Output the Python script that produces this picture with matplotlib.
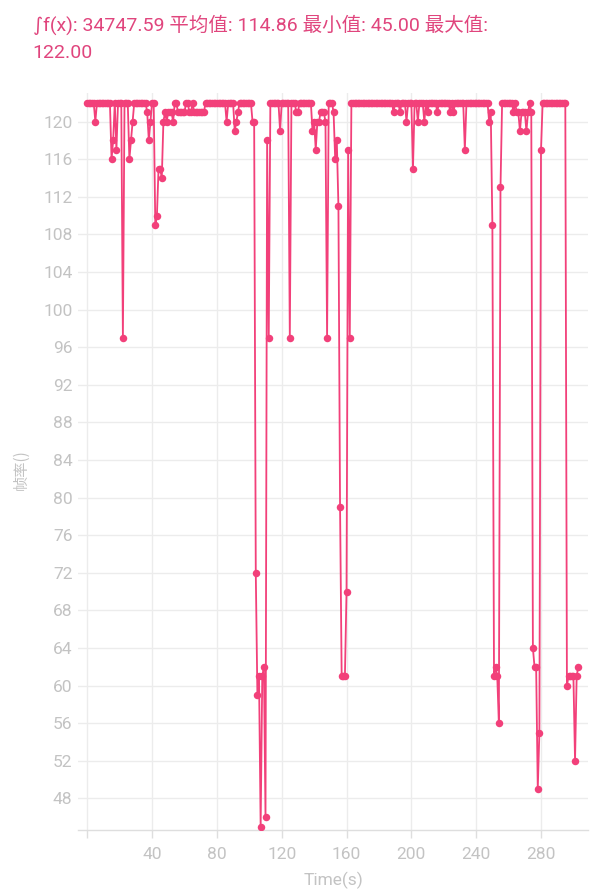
import matplotlib
matplotlib.use("Agg")
import matplotlib.pyplot as plt

plt.rcParams['font.family'] = ['Noto Sans CJK SC', 'DejaVu Sans']

# ---- data ----
n_points = 304
base_value = 122
dip_times = [5, 15, 16, 18, 22, 26, 27, 28,
             37, 38, 39, 42, 43, 44, 45, 46, 47, 48, 49, 50, 51, 52, 53,
             56, 57, 58, 59, 60, 63, 64, 66, 67, 68, 69, 70, 71, 72,
             86, 91, 92, 93,
             102, 103, 104, 105, 106, 107, 108, 109, 110, 111, 112,
             119, 125, 129, 130,
             139, 140, 141, 142, 143, 144, 145, 146, 147, 148,
             152, 153, 154, 155, 156, 157, 158, 159, 160, 161, 162,
             189, 193, 197, 201, 204, 208, 210, 216, 224, 226, 233,
             248, 249, 250, 251, 252, 253, 254, 255,
             263, 265, 266, 267, 268, 269, 270, 271, 272, 274,
             275, 276, 277, 278, 279, 280,
             296, 297, 298, 299, 300, 301, 302, 303]
dip_values = [120, 116, 118, 117, 97, 116, 118, 120,
              121, 118, 120, 109, 110, 115, 115, 114, 120, 121, 120, 121, 121, 121, 120,
              121, 121, 121, 121, 121, 121, 121, 121, 121, 121, 121, 121, 121, 121,
              120, 119, 120, 121,
              120, 120, 72, 59, 61, 45, 61, 62, 46, 118, 97,
              119, 97, 121, 121,
              119, 120, 117, 120, 120, 121, 121, 121, 120, 97,
              121, 116, 118, 111, 79, 61, 61, 61, 70, 117, 97,
              121, 121, 120, 115, 120, 120, 121, 121, 121, 121, 117,
              120, 121, 109, 61, 62, 61, 56, 113,
              121, 121, 121, 119, 121, 121, 121, 119, 121, 121,
              64, 62, 62, 49, 55, 117,
              60, 61, 61, 61, 61, 52, 61, 62]

times = list(range(n_points))
fps = [base_value] * n_points
for t, v in zip(dip_times, dip_values):
    fps[t] = v

x_ticks = [0, 40, 80, 120, 160, 200, 240, 280]
x_tick_labels = ['', '40', '80', '120', '160', '200', '240', '280']
y_ticks = list(range(48, 121, 4))

title_symbol = "∫"
title_line1 = "f(x): 34747.59 平均值: 114.86 最小值: 45.00 最大值:"
title_line2 = "122.00"

# ---- figure ----
fig = plt.figure(figsize=(6.0, 8.94), dpi=100)
ax = fig.add_axes([0.13, 0.0716, 0.85, 0.8244])

line_color = '#F2407A'
ax.plot(times, fps, color=line_color, linewidth=1.3, marker='o',
        markersize=5.4, markeredgewidth=0, zorder=3)

ax.set_xlim(-5.7, 309)
ax.set_ylim(44.65, 123.05)
ax.set_xticks(x_ticks)
ax.set_xticklabels(x_tick_labels)
ax.set_yticks(y_ticks)

grid_color = '#ececec'
ax.grid(True, color=grid_color, linewidth=1.0, zorder=0)
for s in ['left', 'right', 'top']:
    ax.spines[s].set_visible(False)
ax.spines['bottom'].set_color('#dedede')
ax.spines['bottom'].set_linewidth(1.0)

tick_font = ['Roboto', 'Noto Sans CJK SC', 'DejaVu Sans']
ax.tick_params(axis='y', length=0, pad=4, labelsize=12.5, labelcolor='#c3c3c3')
ax.tick_params(axis='x', length=6, width=1.0, color='#dedede', pad=6,
               labelsize=12.5, labelcolor='#c3c3c3')
for lab in ax.get_xticklabels() + ax.get_yticklabels():
    lab.set_family(tick_font)

title_color = '#E0457D'
title_font = ['Roboto', 'DejaVu Sans', 'Noto Sans CJK SC']
# baselines in figure pixels: line 1 ~ 31 px, line 2 ~ 58 px from top
fig.text(33 / 600, 1 - 31 / 894, title_symbol, color=title_color, fontsize=14,
         family=['DejaVu Sans'], ha='left', va='baseline')
fig.text(43 / 600, 1 - 31 / 894, title_line1, color=title_color, fontsize=14,
         family=title_font, ha='left', va='baseline')
fig.text(32 / 600, 1 - 58 / 894, title_line2, color=title_color, fontsize=14,
         family=title_font, ha='left', va='baseline')

fig.text(0.035, 0.475, '帧率()', rotation=90, color='#c3c3c3',
         fontsize=11, ha='center', va='center')
fig.text(0.555, 0.015, 'Time(s)', color='#c3c3c3', fontsize=12.5,
         family=tick_font, ha='center', va='center')

fig.savefig('out.png', dpi=100)
